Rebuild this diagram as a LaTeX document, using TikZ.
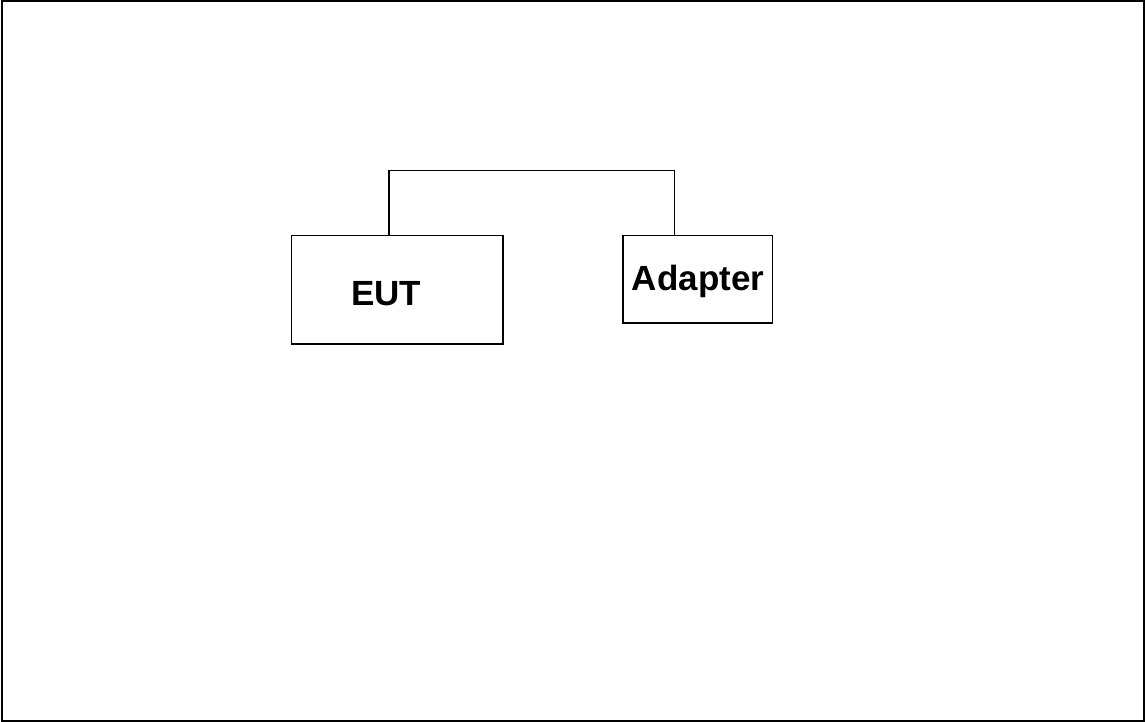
\documentclass[tikz,border=0pt]{standalone}
\usepackage{fontspec}
\setmainfont{Liberation Sans}
\begin{document}
\begin{tikzpicture}[x=1pt,y=-1pt,
  frame/.style={draw=black,line width=2pt},
  unit/.style={draw=black,line width=1.4pt,fill=white},
  wire/.style={draw=black,line width=1.4pt},
  lbl/.style={font=\fontsize{35}{38}\selectfont\bfseries,anchor=base,inner sep=0pt}]
  \useasboundingbox (0,0) rectangle (1145,722);
  \draw[frame] (1.5,1.5) rectangle (1143.5,720.5);
  % equipment boxes
  \path[unit] (291.5,235.5) rectangle (503,344);
  \coordinate (eut) at (389,235.5);
  \path[unit] (623,235.5) rectangle (772.5,323);
  \coordinate (adp) at (674.5,235.5);
  % cable between them
  \coordinate (eutup) at (389,170.5);
  \coordinate (adpup) at (674.5,170.5);
  \draw[wire] (eut) -- (eutup) -- (adpup) -- (adp);
  % labels
  \node[lbl] (euttext) at (386,305.5) {EUT};
  \node[lbl] (adptext) at (698,290.5) {Adapter};
\end{tikzpicture}
\end{document}
